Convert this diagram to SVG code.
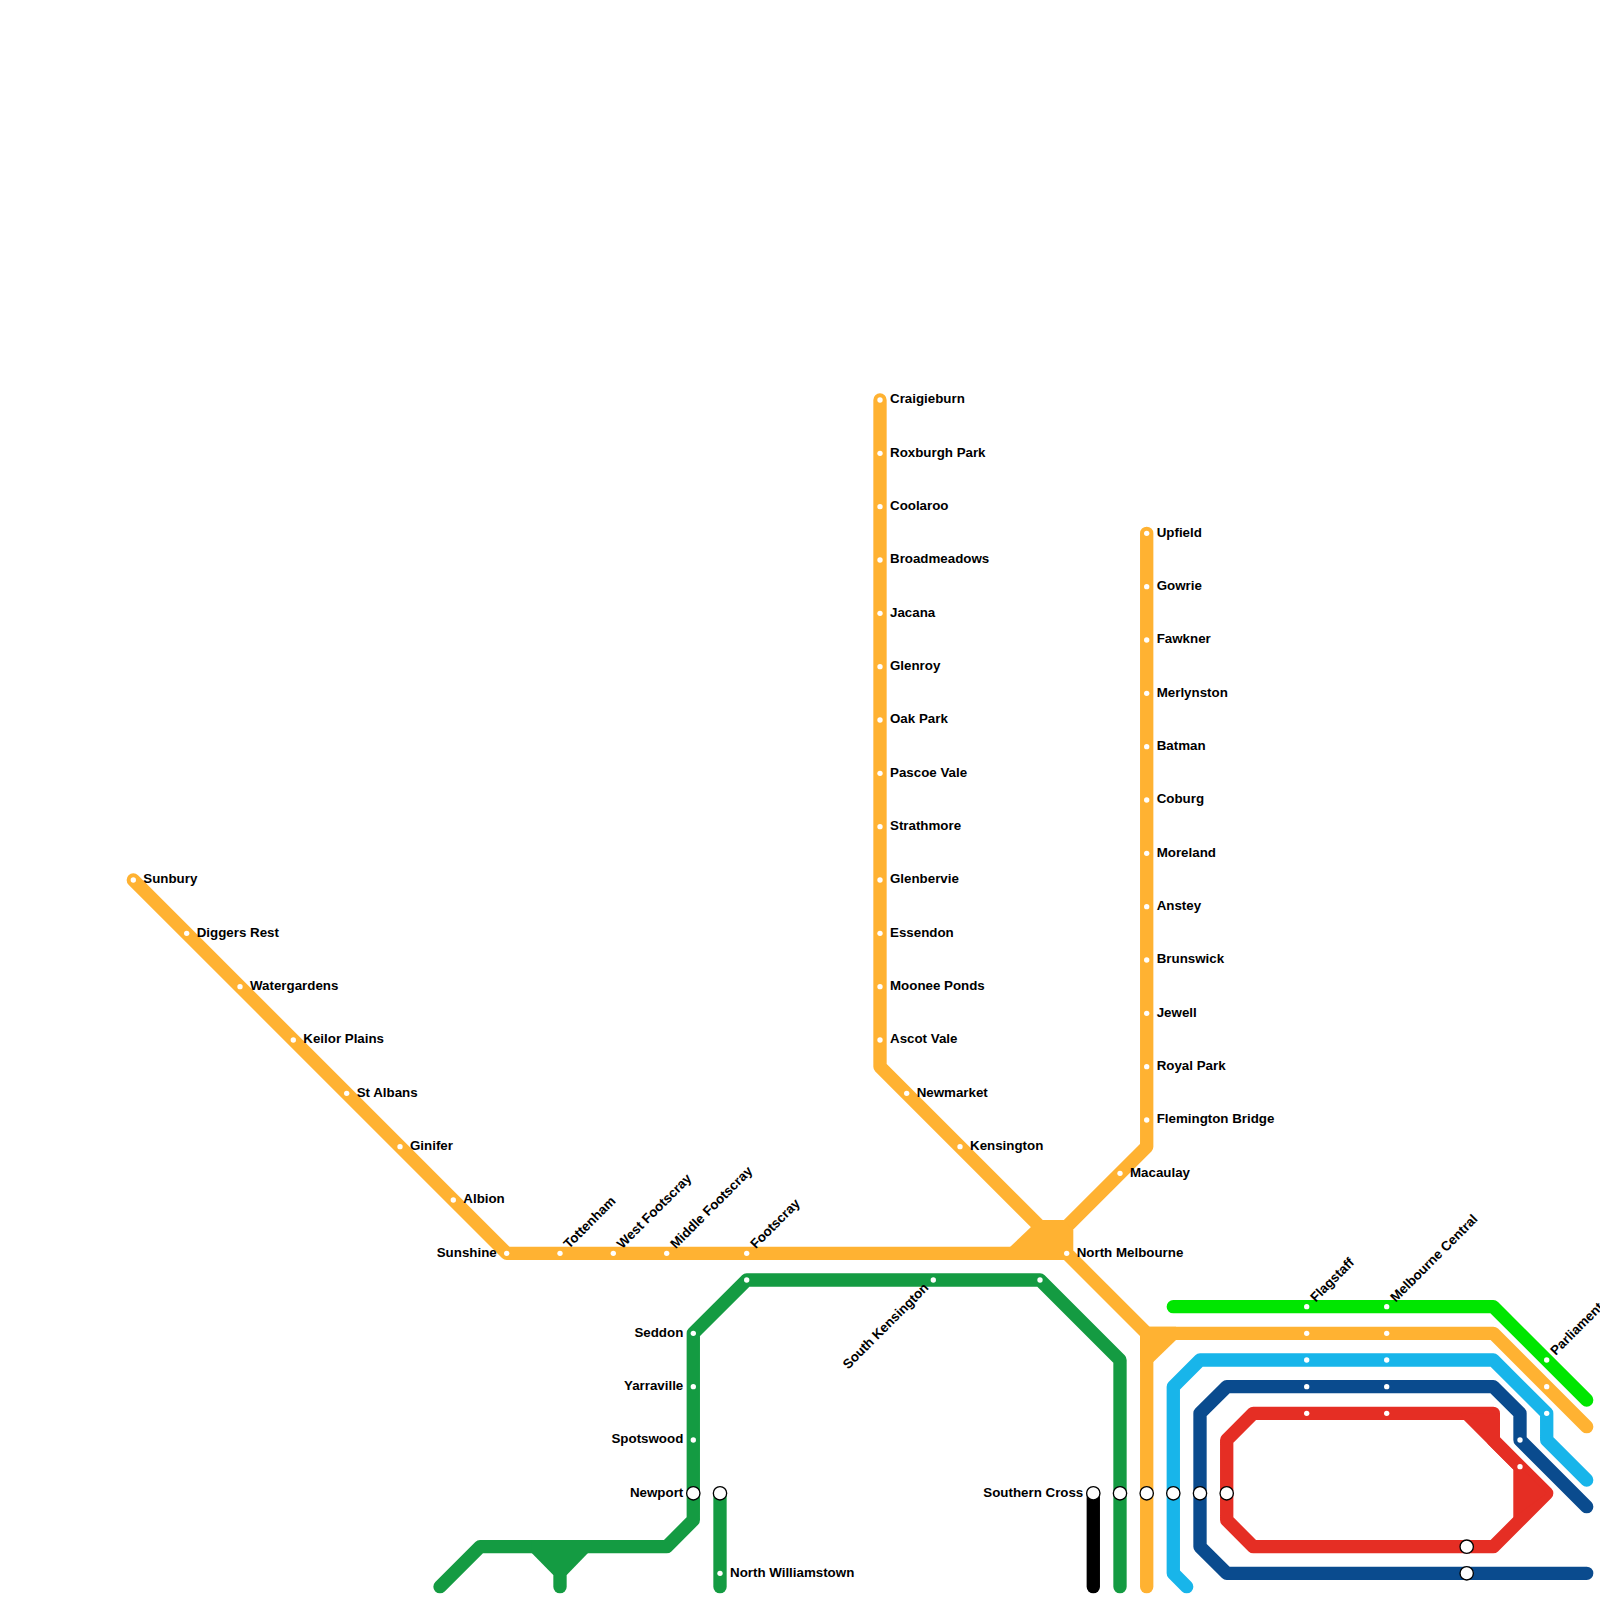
<svg xmlns="http://www.w3.org/2000/svg" width="1600" height="1600" viewBox="0 0 1600 1600">
<style>
.l{fill:none;stroke-width:13.33;stroke-linecap:round;stroke-linejoin:round}
.o{stroke:#ffb232}.g{stroke:#149b42}.b{stroke:#00e600}.s{stroke:#18b5ea}.d{stroke:#0a4b8e}.r{stroke:#e52e24}.k{stroke:#000}
.fo{fill:#ffb232}.fg{fill:#149b42}.fr{fill:#e52e24}
circle{fill:#fff}
.x{stroke:#000;stroke-width:1.33}
text{font-family:"Liberation Sans",Arial,sans-serif;font-weight:bold;font-size:13.33px;fill:#000}
.e{text-anchor:end}
</style>
<rect width="1600" height="1600" fill="#fff"/>
<g id="connectors">
<path class="l g" d="M440 1586.7L480 1546.7H666.7L693.3 1520V1333.3L746.7 1280H1040L1120 1360V1586.7"/>
<path class="l g" d="M560 1560V1586.7"/>
<polygon class="fg" points="531.7,1553 553.3,1575 566.7,1575 588,1553 588,1540 531.7,1540"/>
<path class="l g" d="M720 1493.3V1586.7"/>
<path class="l k" d="M1093.3 1493.3V1586.7"/>
<path class="l o" d="M133.3 880L506.7 1253.3H1066.7L1146.7 1333.3H1493.3L1586.7 1426.7"/>
<path class="l o" d="M880 400V1066.7L1053.3 1240"/>
<path class="l o" d="M1146.7 533.3V1146.7L1053.3 1240"/>
<polygon class="fo" points="1042.7,1220 1064,1220 1073.3,1230 1073.3,1250 1066,1259 1010,1259 1010,1247 1031,1227"/>
<path class="l o" d="M1146.7 1333.3V1586.7"/>
<polygon class="fo" points="1148,1326.7 1176,1326.7 1176,1340 1153.3,1362 1140,1362 1140,1335"/>
<path class="l b" d="M1173.3 1306.7H1493.3L1586.7 1400"/>
<path class="l s" d="M1186.7 1586.7L1173.3 1573.3V1386.7L1200 1360H1493.3L1546.7 1413.3V1440L1586.7 1480"/>
<path class="l d" d="M1586.7 1506.7L1520 1440V1413.3L1493.3 1386.7H1226.7L1200 1413.3V1546.7L1226.7 1573.3H1586.7"/>
<path class="l r" d="M1226.7 1493.3V1440L1253.3 1413.3H1493.3V1440M1226.7 1493.3V1520L1253.3 1546.7H1493.3L1546.7 1493.3L1493.3 1440"/>
<polygon class="fr" points="1463.9,1420 1513.3,1469.4 1513.3,1518 1546.7,1493.3 1500,1446.7 1500,1413.3 1460,1413.3"/>
</g>
<g id="n-sunbury"><circle cx="133.3" cy="880" r="2.67"/><text x="143.3" y="883">Sunbury</text></g>
<g id="n-diggers-rest"><circle cx="186.7" cy="933.3" r="2.67"/><text x="196.7" y="936.6">Diggers Rest</text></g>
<g id="n-watergardens"><circle cx="240" cy="986.7" r="2.67"/><text x="250" y="989.7">Watergardens</text></g>
<g id="n-keilor-plains"><circle cx="293.3" cy="1040" r="2.67"/><text x="303.3" y="1043">Keilor Plains</text></g>
<g id="n-st-albans"><circle cx="346.7" cy="1093.3" r="2.67"/><text x="356.7" y="1096.6">St Albans</text></g>
<g id="n-ginifer"><circle cx="400" cy="1146.7" r="2.67"/><text x="410" y="1149.7">Ginifer</text></g>
<g id="n-albion"><circle cx="453.3" cy="1200" r="2.67"/><text x="463.3" y="1203">Albion</text></g>
<g id="n-sunshine"><circle cx="506.7" cy="1253.3" r="2.67"/><text class="e" x="496.7" y="1256.6">Sunshine</text></g>
<g id="n-tottenham"><circle cx="560" cy="1253.3" r="2.67"/><text transform="translate(569 1249.3) rotate(-45)">Tottenham</text></g>
<g id="n-west-footscray"><circle cx="613.3" cy="1253.3" r="2.67"/><text transform="translate(622.3 1249.3) rotate(-45)">West Footscray</text></g>
<g id="n-middle-footscray"><circle cx="666.7" cy="1253.3" r="2.67"/><text transform="translate(675.7 1249.3) rotate(-45)">Middle Footscray</text></g>
<g id="n-footscray"><circle cx="746.7" cy="1253.3" r="2.67"/><text transform="translate(755.7 1249.3) rotate(-45)">Footscray</text></g>
<g id="n-craigieburn"><circle cx="880" cy="400" r="2.67"/><text x="890" y="403">Craigieburn</text></g>
<g id="n-roxburgh-park"><circle cx="880" cy="453.3" r="2.67"/><text x="890" y="456.6">Roxburgh Park</text></g>
<g id="n-coolaroo"><circle cx="880" cy="506.7" r="2.67"/><text x="890" y="509.7">Coolaroo</text></g>
<g id="n-broadmeadows"><circle cx="880" cy="560" r="2.67"/><text x="890" y="563">Broadmeadows</text></g>
<g id="n-jacana"><circle cx="880" cy="613.3" r="2.67"/><text x="890" y="616.6">Jacana</text></g>
<g id="n-glenroy"><circle cx="880" cy="666.7" r="2.67"/><text x="890" y="669.7">Glenroy</text></g>
<g id="n-oak-park"><circle cx="880" cy="720" r="2.67"/><text x="890" y="723">Oak Park</text></g>
<g id="n-pascoe-vale"><circle cx="880" cy="773.3" r="2.67"/><text x="890" y="776.6">Pascoe Vale</text></g>
<g id="n-strathmore"><circle cx="880" cy="826.7" r="2.67"/><text x="890" y="829.7">Strathmore</text></g>
<g id="n-glenbervie"><circle cx="880" cy="880" r="2.67"/><text x="890" y="883">Glenbervie</text></g>
<g id="n-essendon"><circle cx="880" cy="933.3" r="2.67"/><text x="890" y="936.6">Essendon</text></g>
<g id="n-moonee-ponds"><circle cx="880" cy="986.7" r="2.67"/><text x="890" y="989.7">Moonee Ponds</text></g>
<g id="n-ascot-vale"><circle cx="880" cy="1040" r="2.67"/><text x="890" y="1043">Ascot Vale</text></g>
<g id="n-newmarket"><circle cx="906.7" cy="1093.3" r="2.67"/><text x="916.7" y="1096.6">Newmarket</text></g>
<g id="n-kensington"><circle cx="960" cy="1146.7" r="2.67"/><text x="970" y="1149.7">Kensington</text></g>
<g id="n-upfield"><circle cx="1146.7" cy="533.3" r="2.67"/><text x="1156.7" y="536.6">Upfield</text></g>
<g id="n-gowrie"><circle cx="1146.7" cy="586.7" r="2.67"/><text x="1156.7" y="589.7">Gowrie</text></g>
<g id="n-fawkner"><circle cx="1146.7" cy="640" r="2.67"/><text x="1156.7" y="643">Fawkner</text></g>
<g id="n-merlynston"><circle cx="1146.7" cy="693.3" r="2.67"/><text x="1156.7" y="696.6">Merlynston</text></g>
<g id="n-batman"><circle cx="1146.7" cy="746.7" r="2.67"/><text x="1156.7" y="749.7">Batman</text></g>
<g id="n-coburg"><circle cx="1146.7" cy="800" r="2.67"/><text x="1156.7" y="803">Coburg</text></g>
<g id="n-moreland"><circle cx="1146.7" cy="853.3" r="2.67"/><text x="1156.7" y="856.6">Moreland</text></g>
<g id="n-anstey"><circle cx="1146.7" cy="906.7" r="2.67"/><text x="1156.7" y="909.7">Anstey</text></g>
<g id="n-brunswick"><circle cx="1146.7" cy="960" r="2.67"/><text x="1156.7" y="963">Brunswick</text></g>
<g id="n-jewell"><circle cx="1146.7" cy="1013.3" r="2.67"/><text x="1156.7" y="1016.6">Jewell</text></g>
<g id="n-royal-park"><circle cx="1146.7" cy="1066.7" r="2.67"/><text x="1156.7" y="1069.7">Royal Park</text></g>
<g id="n-flemington-bridge"><circle cx="1146.7" cy="1120" r="2.67"/><text x="1156.7" y="1123">Flemington Bridge</text></g>
<g id="n-macaulay"><circle cx="1120" cy="1173.3" r="2.67"/><text x="1130" y="1176.6">Macaulay</text></g>
<g id="n-north-melbourne"><circle cx="1066.7" cy="1253.3" r="2.67"/><text x="1076.7" y="1256.6">North Melbourne</text></g>
<g id="n-seddon"><circle cx="693.3" cy="1333.3" r="2.67"/><text class="e" x="683.3" y="1336.6">Seddon</text></g>
<g id="n-yarraville"><circle cx="693.3" cy="1386.7" r="2.67"/><text class="e" x="683.3" y="1389.7">Yarraville</text></g>
<g id="n-spotswood"><circle cx="693.3" cy="1440" r="2.67"/><text class="e" x="683.3" y="1443">Spotswood</text></g>
<g id="n-newport"><circle class="x" cx="693.3" cy="1493.3" r="6.67"/><text class="e" x="683.3" y="1496.6">Newport</text></g>
<g id="n-williamstown-start"><circle class="x" cx="720" cy="1493.3" r="6.67"/></g>
<g id="n-north-williamstown"><circle cx="720" cy="1573.3" r="2.67"/><text x="730" y="1576.6">North Williamstown</text></g>
<g id="n-footscray-green"><circle cx="746.7" cy="1280" r="2.67"/></g>
<g id="n-south-kensington"><circle cx="933.3" cy="1280" r="2.67"/><text class="e" transform="translate(929.3 1288.5) rotate(-45)">South Kensington</text></g>
<g id="n-north-melbourne-green"><circle cx="1040" cy="1280" r="2.67"/></g>
<g id="n-southern-cross"><circle class="x" cx="1093.3" cy="1493.3" r="6.67"/><text class="e" x="1083.3" y="1496.6">Southern Cross</text></g>
<g id="n-sc-green"><circle class="x" cx="1120" cy="1493.3" r="6.67"/></g>
<g id="n-sc-orange"><circle class="x" cx="1146.7" cy="1493.3" r="6.67"/></g>
<g id="n-sc-sky"><circle class="x" cx="1173.3" cy="1493.3" r="6.67"/></g>
<g id="n-sc-blue"><circle class="x" cx="1200" cy="1493.3" r="6.67"/></g>
<g id="n-sc-red"><circle class="x" cx="1226.7" cy="1493.3" r="6.67"/></g>
<g id="n-flagstaff"><circle cx="1306.7" cy="1306.7" r="2.67"/><circle cx="1306.7" cy="1333.3" r="2.67"/><circle cx="1306.7" cy="1360" r="2.67"/><circle cx="1306.7" cy="1386.7" r="2.67"/><circle cx="1306.7" cy="1413.3" r="2.67"/><text transform="translate(1315.7 1302.7) rotate(-45)">Flagstaff</text></g>
<g id="n-melbourne-central"><circle cx="1386.7" cy="1306.7" r="2.67"/><circle cx="1386.7" cy="1333.3" r="2.67"/><circle cx="1386.7" cy="1360" r="2.67"/><circle cx="1386.7" cy="1386.7" r="2.67"/><circle cx="1386.7" cy="1413.3" r="2.67"/><text transform="translate(1395.7 1302.7) rotate(-45)">Melbourne Central</text></g>
<g id="n-parliament"><circle cx="1546.7" cy="1360" r="2.67"/><circle cx="1546.7" cy="1386.7" r="2.67"/><circle cx="1546.7" cy="1413.3" r="2.67"/><circle cx="1520" cy="1440" r="2.67"/><circle cx="1520" cy="1466.7" r="2.67"/><text transform="translate(1555.7 1356) rotate(-45)">Parliament</text></g>
<g id="n-flinders-red"><circle class="x" cx="1466.7" cy="1546.7" r="6.67"/></g>
<g id="n-flinders-blue"><circle class="x" cx="1466.7" cy="1573.3" r="6.67"/></g>
</svg>
